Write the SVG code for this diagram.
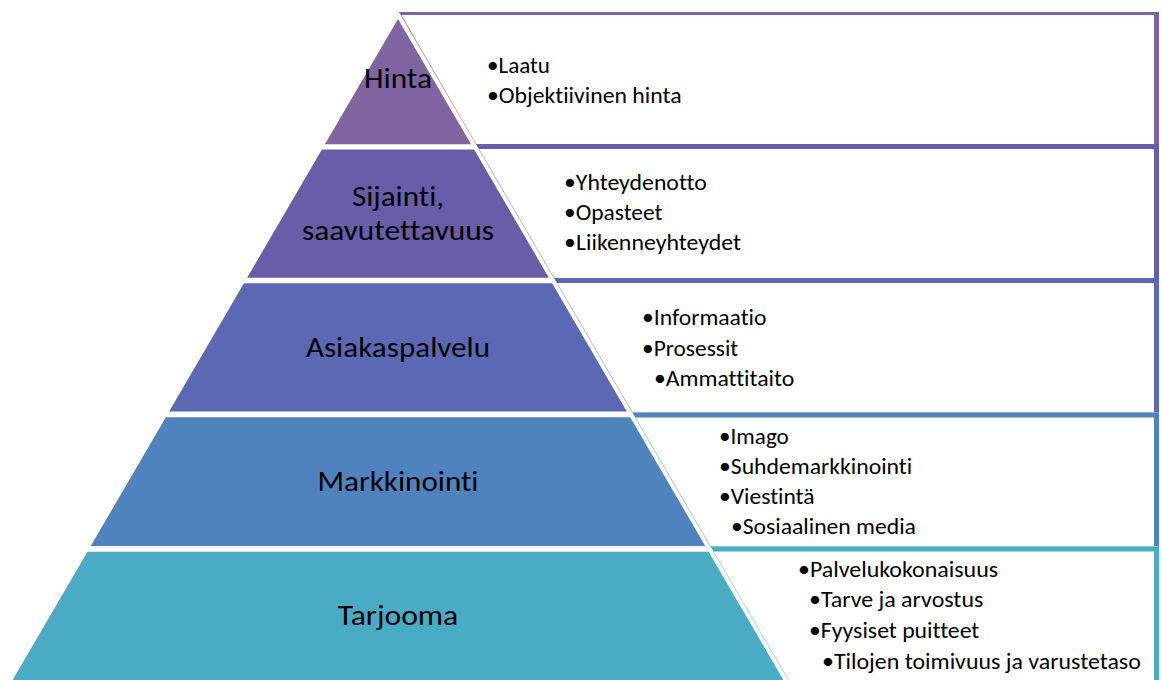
<svg xmlns="http://www.w3.org/2000/svg" width="1162" height="680" viewBox="0 0 1162 680">
  <style>
    .lbl { font-family: Carlito, Lato, "Liberation Sans", sans-serif; font-size: 29px; fill: #000; text-anchor: middle; font-variant-ligatures: none; font-feature-settings: "liga" 0, "clig" 0; }
    .bul { font-family: Carlito, Lato, "Liberation Sans", sans-serif; font-size: 22px; fill: #000; font-variant-ligatures: none; font-feature-settings: "liga" 0, "clig" 0; }
    .inner { fill: #ffffff; }
    .edge { stroke-width: 1; stroke-opacity: 0.3; fill: none; }
  </style>
  <rect width="1162" height="680" fill="#ffffff"/>

  <!-- right-hand boxes -->
  <g id="box-hinta">
    <polygon points="398.9,12 1159,12 1159,144 475.9,144" fill="#8064A2"/>
    <polygon class="inner" points="401.3,15 1154,15 1154,144 475.9,144"/>
    <line class="edge" x1="401.3" y1="15" x2="475.9" y2="144" stroke="#8064A2"/>
    <text class="bul" x="487" y="72.5" textLength="62.8" lengthAdjust="spacingAndGlyphs">•Laatu</text>
    <text class="bul" x="487" y="103" textLength="194.6" lengthAdjust="spacingAndGlyphs">•Objektiivinen hinta</text>
  </g>
  <g id="box-sijainti">
    <polygon points="475.9,144 1159,144 1159,278 554,278" fill="#685DA8"/>
    <polygon class="inner" points="478.8,149 1154,149 1154,278 554,278"/>
    <line class="edge" x1="478.8" y1="149" x2="554" y2="278" stroke="#685DA8"/>
    <text class="bul" x="564" y="190" textLength="142.8" lengthAdjust="spacingAndGlyphs">•Yhteydenotto</text>
    <text class="bul" x="564" y="220" textLength="98.5" lengthAdjust="spacingAndGlyphs">•Opasteet</text>
    <text class="bul" x="564" y="250" textLength="177.1" lengthAdjust="spacingAndGlyphs">•Liikenneyhteydet</text>
  </g>
  <g id="box-asiakaspalvelu">
    <polygon points="554,278 1159,278 1159,412.5 632.4,412.5" fill="#5B68B4"/>
    <polygon class="inner" points="556.9,283 1154,283 1154,412.5 632.4,412.5"/>
    <line class="edge" x1="556.9" y1="283" x2="632.4" y2="412.5" stroke="#5B68B4"/>
    <text class="bul" x="642" y="325" textLength="124.5" lengthAdjust="spacingAndGlyphs">•Informaatio</text>
    <text class="bul" x="642" y="355.5" textLength="96.2" lengthAdjust="spacingAndGlyphs">•Prosessit</text>
    <text class="bul" x="654" y="386" textLength="140.2" lengthAdjust="spacingAndGlyphs">•Ammattitaito</text>
  </g>
  <g id="box-markkinointi">
    <polygon points="632.4,412.5 1159,412.5 1159,546.5 710.5,546.5" fill="#4F83BE"/>
    <polygon class="inner" points="635.3,417.5 1154,417.5 1154,546.5 710.5,546.5"/>
    <line class="edge" x1="635.3" y1="417.5" x2="710.5" y2="546.5" stroke="#4F83BE"/>
    <text class="bul" x="719" y="443.5" textLength="69.8" lengthAdjust="spacingAndGlyphs">•Imago</text>
    <text class="bul" x="719" y="473.5" textLength="193.2" lengthAdjust="spacingAndGlyphs">•Suhdemarkkinointi</text>
    <text class="bul" x="719" y="503.5" textLength="95.5" lengthAdjust="spacingAndGlyphs">•Viestintä</text>
    <text class="bul" x="731" y="533.5" textLength="184.9" lengthAdjust="spacingAndGlyphs">•Sosiaalinen media</text>
  </g>
  <g id="box-tarjooma">
    <polygon points="710.5,546.5 1159,546.5 1159,682 789.5,682" fill="#4AABC5"/>
    <polygon class="inner" points="713.4,551.5 1154,551.5 1154,682 789.5,682"/>
    <line class="edge" x1="713.4" y1="551.5" x2="789.5" y2="682" stroke="#4AABC5"/>
    <text class="bul" x="798" y="576.5" textLength="200.1" lengthAdjust="spacingAndGlyphs">•Palvelukokonaisuus</text>
    <text class="bul" x="809" y="607" textLength="174.3" lengthAdjust="spacingAndGlyphs">•Tarve ja arvostus</text>
    <text class="bul" x="809" y="638" textLength="170.3" lengthAdjust="spacingAndGlyphs">•Fyysiset puitteet</text>
    <text class="bul" x="822" y="668.5" textLength="318.8" lengthAdjust="spacingAndGlyphs">•Tilojen toimivuus ja varustetaso</text>
  </g>

  <!-- pyramid layers -->
  <g id="node-hinta">
    <polygon points="398,19 471.05,144.3 324.95,144.3" fill="#8064A2"/>
    <text class="lbl" x="398" y="88.3" textLength="67.9" lengthAdjust="spacingAndGlyphs">Hinta</text>
  </g>
  <g id="node-sijainti">
    <polygon points="321.92,149.5 474.08,149.5 548.82,277.7 247.18,277.7" fill="#685DA8"/>
    <text class="lbl" x="398" y="206" textLength="92.2" lengthAdjust="spacingAndGlyphs">Sijainti,</text>
    <text class="lbl" x="398" y="240" textLength="192.2" lengthAdjust="spacingAndGlyphs">saavutettavuus</text>
  </g>
  <g id="node-asiakaspalvelu">
    <polygon points="243.91,283.3 552.09,283.3 626.83,411.5 169.17,411.5" fill="#5B68B4"/>
    <text class="lbl" x="398" y="356.7" textLength="184.1" lengthAdjust="spacingAndGlyphs">Asiakaspalvelu</text>
  </g>
  <g id="node-markkinointi">
    <polygon points="165.85,417.2 630.15,417.2 705.24,546 90.76,546" fill="#4F83BE"/>
    <text class="lbl" x="398" y="491" textLength="161" lengthAdjust="spacingAndGlyphs">Markkinointi</text>
  </g>
  <g id="node-tarjooma">
    <polygon points="87.44,551.7 708.56,551.7 783.36,680 12.64,680" fill="#4AABC5"/>
    <text class="lbl" x="398" y="625" textLength="120.5" lengthAdjust="spacingAndGlyphs">Tarjooma</text>
  </g>
</svg>
